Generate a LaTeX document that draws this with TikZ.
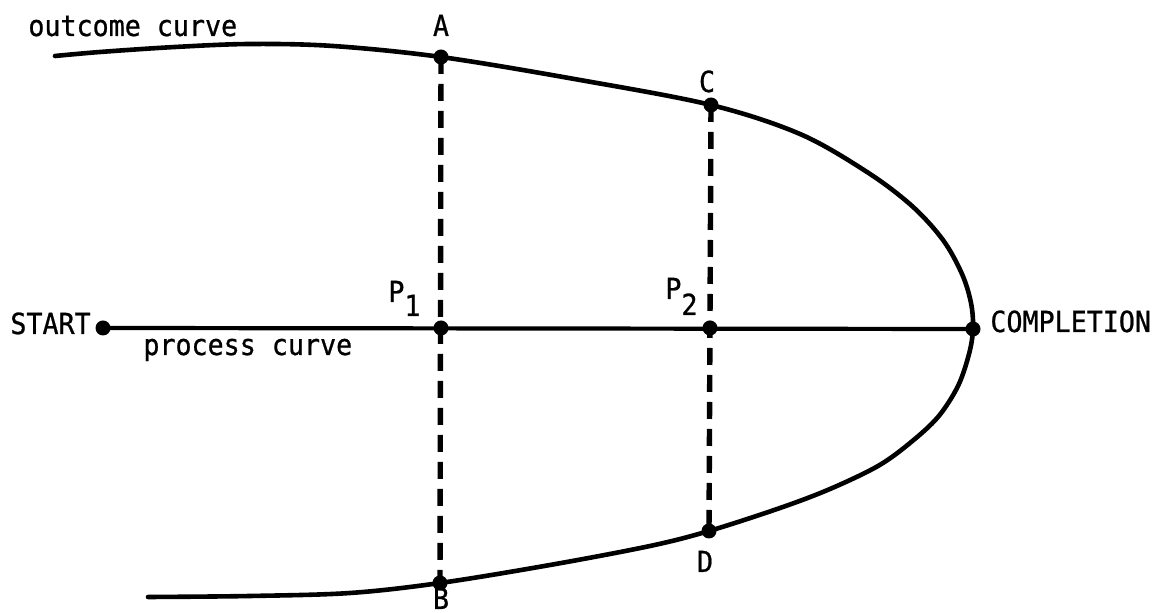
\documentclass[tikz,border=0pt]{standalone}
\usepackage{fontspec}
\newfontfamily\twfont[FakeStretch=0.92,FakeBold=0.8]{DejaVu Sans Mono}
\begin{document}
\begin{tikzpicture}[x=0.5pt,y=-0.5pt,
  lbl/.style={inner sep=0pt,font=\twfont\fontsize{14.5}{17}\selectfont},
  pt/.style={circle,fill=black,inner sep=0pt,minimum size=7.5pt},
  curveline/.style={line width=2.3pt,line cap=round,line join=round},
  dashline/.style={line width=2.7pt,dash pattern=on 8.5pt off 5pt}]
\useasboundingbox (0,0) rectangle (1162,613);
% key points
\coordinate (a) at (441,57);
\coordinate (c) at (711,105);
\coordinate (e) at (973,329);
\coordinate (d) at (709,531);
\coordinate (b) at (440,583);
\coordinate (s) at (103,328);
\coordinate (p1) at (441,328);
\coordinate (p2) at (710,328);
% outcome curve
\draw[curveline] plot[smooth,tension=0.55] coordinates {
  (55,56) (100,52) (175,47) (250,44) (333,46) (a) (580,80) (c) (800,134)
  (867,172) (912,206) (943,240) (962,274) (971,303) (e) (969,354)
  (958,386) (938,417) (910,443) (878,466) (830,489) (780,508) (d)
  (650,546) (550,565) (b) (350,593) (250,596) (148,597)};
% dashed verticals
\draw[dashline] (a) -- (b);
\draw[dashline] (c) -- (d);
% process curve
\draw[line width=2.1pt] (s) -- (e);
% dots
\node[pt] (A) at (a) {};
\node[pt] (C) at (c) {};
\node[pt] (E) at (e) {};
\node[pt] (D) at (d) {};
\node[pt] (B) at (b) {};
\node[pt] (S) at (s) {};
\node[pt] (P1) at (p1) {};
\node[pt] (P2) at (p2) {};
% labels
\node[lbl,anchor=base west] (loutcome) at (28,36) {outcome curve};
\node[lbl,anchor=base] (lA) at (441,36) {A};
\node[lbl,anchor=base] (lC) at (707,92) {C};
\node[lbl,anchor=base west] (lP1) at (388,302) {P\raisebox{-7pt}{1}};
\node[lbl,anchor=base west] (lP2) at (665,299) {P\raisebox{-8pt}{2}};
\node[lbl,anchor=base west] (lstart) at (10,334) {START};
\node[lbl,anchor=base west] (lprocess) at (143,355) {process curve};
\node[lbl,anchor=base west] (lcompl) at (990,332) {COMPLETION};
\node[lbl,anchor=base] (lD) at (705,572) {D};
\node[lbl,anchor=base] (lB) at (441,609) {B};
\end{tikzpicture}
\end{document}
